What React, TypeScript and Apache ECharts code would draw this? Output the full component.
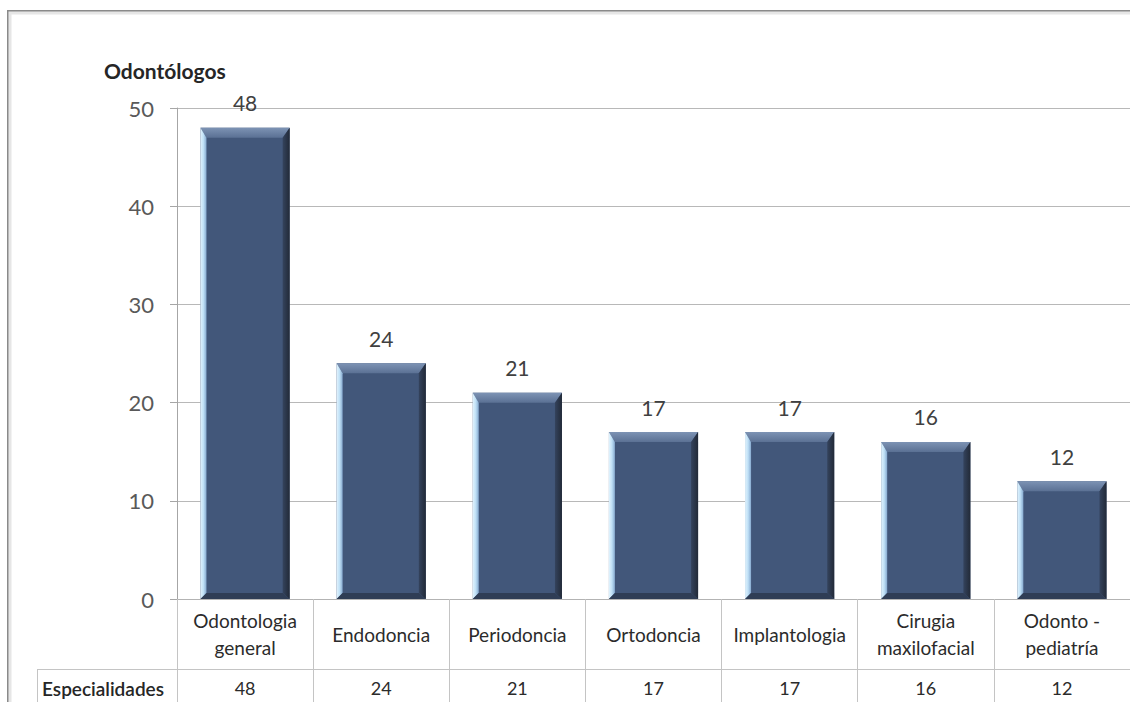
import React, { useEffect, useRef } from "react";
import * as echarts from "echarts";

const categories = [
  "Odontologia\ngeneral",
  "Endodoncia",
  "Periodoncia",
  "Ortodoncia",
  "Implantologia",
  "Cirugia\nmaxilofacial",
  "Odonto -\npediatría",
];
const values = [48, 24, 21, 17, 17, 16, 12];
const yTicks = { min: 0, max: 50, interval: 10 };
const titleText = "Odontólogos";
const rowHeader = "Especialidades";

const FONT = "Lato, 'Open Sans', sans-serif";

export default function App() {
  const ref = useRef<HTMLDivElement>(null);
  useEffect(() => {
    if (!ref.current) return;
    const chart = echarts.init(ref.current, null, { renderer: "svg" });
    const option: any = {
      animation: false,
      backgroundColor: "#ffffff",
      title: {
        text: titleText,
        left: 99,
        top: 55,
        textStyle: { fontFamily: FONT, fontSize: 21, fontWeight: "bold", color: "#262626" },
      },
      grid: { left: 177, top: 108, width: 956, height: 491, containLabel: false },
      xAxis: [
        {
          type: "category",
          data: categories,
          position: "bottom",
          axisLine: { show: true, lineStyle: { color: "#b3b3b3", width: 1 } },
          axisTick: { show: true, interval: 0, length: 103, alignWithLabel: false, lineStyle: { color: "#c4c4c4" } },
          axisLabel: {
            interval: 0,
            margin: 35,
            verticalAlign: "middle",
            lineHeight: 27,
            fontFamily: FONT,
            fontSize: 19,
            color: "#2b2b2b",
          },
          splitLine: { show: false },
        },
        {
          type: "category",
          data: categories,
          position: "bottom",
          offset: 70,
          axisLine: { show: true, lineStyle: { color: "#c4c4c4", width: 1 } },
          axisTick: { show: false },
          axisLabel: {
            interval: 0,
            margin: 19,
            verticalAlign: "middle",
            fontFamily: FONT,
            fontSize: 18,
            color: "#2b2b2b",
            formatter: (_v: string, i: number) => String(values[i]),
          },
        },
      ],
      yAxis: {
        type: "value",
        min: yTicks.min,
        max: yTicks.max,
        interval: yTicks.interval,
        axisLine: { show: true, lineStyle: { color: "#a6a6a6" } },
        axisTick: { show: true, length: 7, lineStyle: { color: "#a6a6a6" } },
        axisLabel: { margin: 23, fontFamily: FONT, fontSize: 22, color: "#595959" },
        splitLine: { show: true, lineStyle: { color: "#b8b8b8", width: 1 } },
      },
      graphic: [
        {
          type: "rect",
          shape: { x: 8, y: 11, width: 1140, height: 720 },
          style: { fill: "none", stroke: "#8a8a8a", lineWidth: 2 },
          silent: true,
        },
        {
          type: "rect",
          shape: { x: 10, y: 13, width: 1140, height: 720 },
          style: { fill: "none", stroke: "#e6e6e6", lineWidth: 3 },
          silent: true,
        },
        {
          type: "line",
          shape: { x1: 37, y1: 669.5, x2: 177, y2: 669.5 },
          style: { stroke: "#c4c4c4", lineWidth: 1 },
        },
        {
          type: "line",
          shape: { x1: 37.5, y1: 669, x2: 37.5, y2: 702 },
          style: { stroke: "#c4c4c4", lineWidth: 1 },
        },
        {
          type: "text",
          x: 103,
          y: 688,
          style: {
            text: rowHeader,
            fontFamily: FONT,
            fontSize: 19,
            fontWeight: 600,
            fill: "#262626",
            align: "center",
            verticalAlign: "middle",
          },
        },
      ],
      series: [
        {
          type: "custom",
          xAxisIndex: 0,
          yAxisIndex: 0,
          data: values.map((v, i) => [i, v]),
          encode: { x: 0, y: 1 },
          renderItem: (params: any, api: any) => {
            const idx = api.value(0);
            const v = api.value(1);
            const top = api.coord([idx, v]);
            const base = api.coord([idx, 0]);
            const band = api.size([1, 0])[0];
            const w = band * 0.655;
            const x0 = top[0] - w / 2;
            const x1 = top[0] + w / 2;
            const y0 = top[1];
            const y1 = base[1];
            const bl = 6, bt = 10, br = 7, bb = 6;
            return {
              type: "group",
              children: [
                {
                  type: "rect",
                  shape: { x: x0, y: y0, width: w, height: y1 - y0 },
                  style: { fill: "#42577a" },
                },
                {
                  type: "polygon",
                  shape: { points: [[x0, y0], [x1, y0], [x1 - br, y0 + bt], [x0 + bl, y0 + bt]] },
                  style: {
                    fill: new echarts.graphic.LinearGradient(0, 0, 0, 1, [
                      { offset: 0, color: "#7d93b4" },
                      { offset: 1, color: "#5b7194" },
                    ]),
                  },
                },
                {
                  type: "polygon",
                  shape: { points: [[x0, y0], [x0 + bl, y0 + bt], [x0 + bl, y1 - bb], [x0, y1]] },
                  style: {
                    fill: new echarts.graphic.LinearGradient(0, 0, 1, 0, [
                      { offset: 0, color: "#e2f3fd" },
                      { offset: 0.5, color: "#bfe0f6" },
                      { offset: 1, color: "#86a9cf" },
                    ]),
                  },
                },
                {
                  type: "polygon",
                  shape: { points: [[x1, y0], [x1, y1], [x1 - br, y1 - bb], [x1 - br, y0 + bt]] },
                  style: {
                    fill: new echarts.graphic.LinearGradient(0, 0, 1, 0, [
                      { offset: 0, color: "#34435d" },
                      { offset: 1, color: "#222a38" },
                    ]),
                  },
                },
                {
                  type: "polygon",
                  shape: { points: [[x0, y1], [x0 + bl, y1 - bb], [x1 - br, y1 - bb], [x1, y1]] },
                  style: { fill: "#2f3d55" },
                },
                {
                  type: "text",
                  x: top[0],
                  y: y0 - 25,
                  style: {
                    text: String(v),
                    fontFamily: FONT,
                    fontSize: 21,
                    fill: "#404040",
                    align: "center",
                    verticalAlign: "middle",
                  },
                },
              ],
            };
          },
        },
      ],
    };
    chart.setOption(option);
    return () => chart.dispose();
  }, []);
  return (
    <div
      ref={ref}
      style={{ position: "absolute", left: 0, top: 0, width: 1130, height: 702, overflow: "hidden" }}
    />
  );
}
